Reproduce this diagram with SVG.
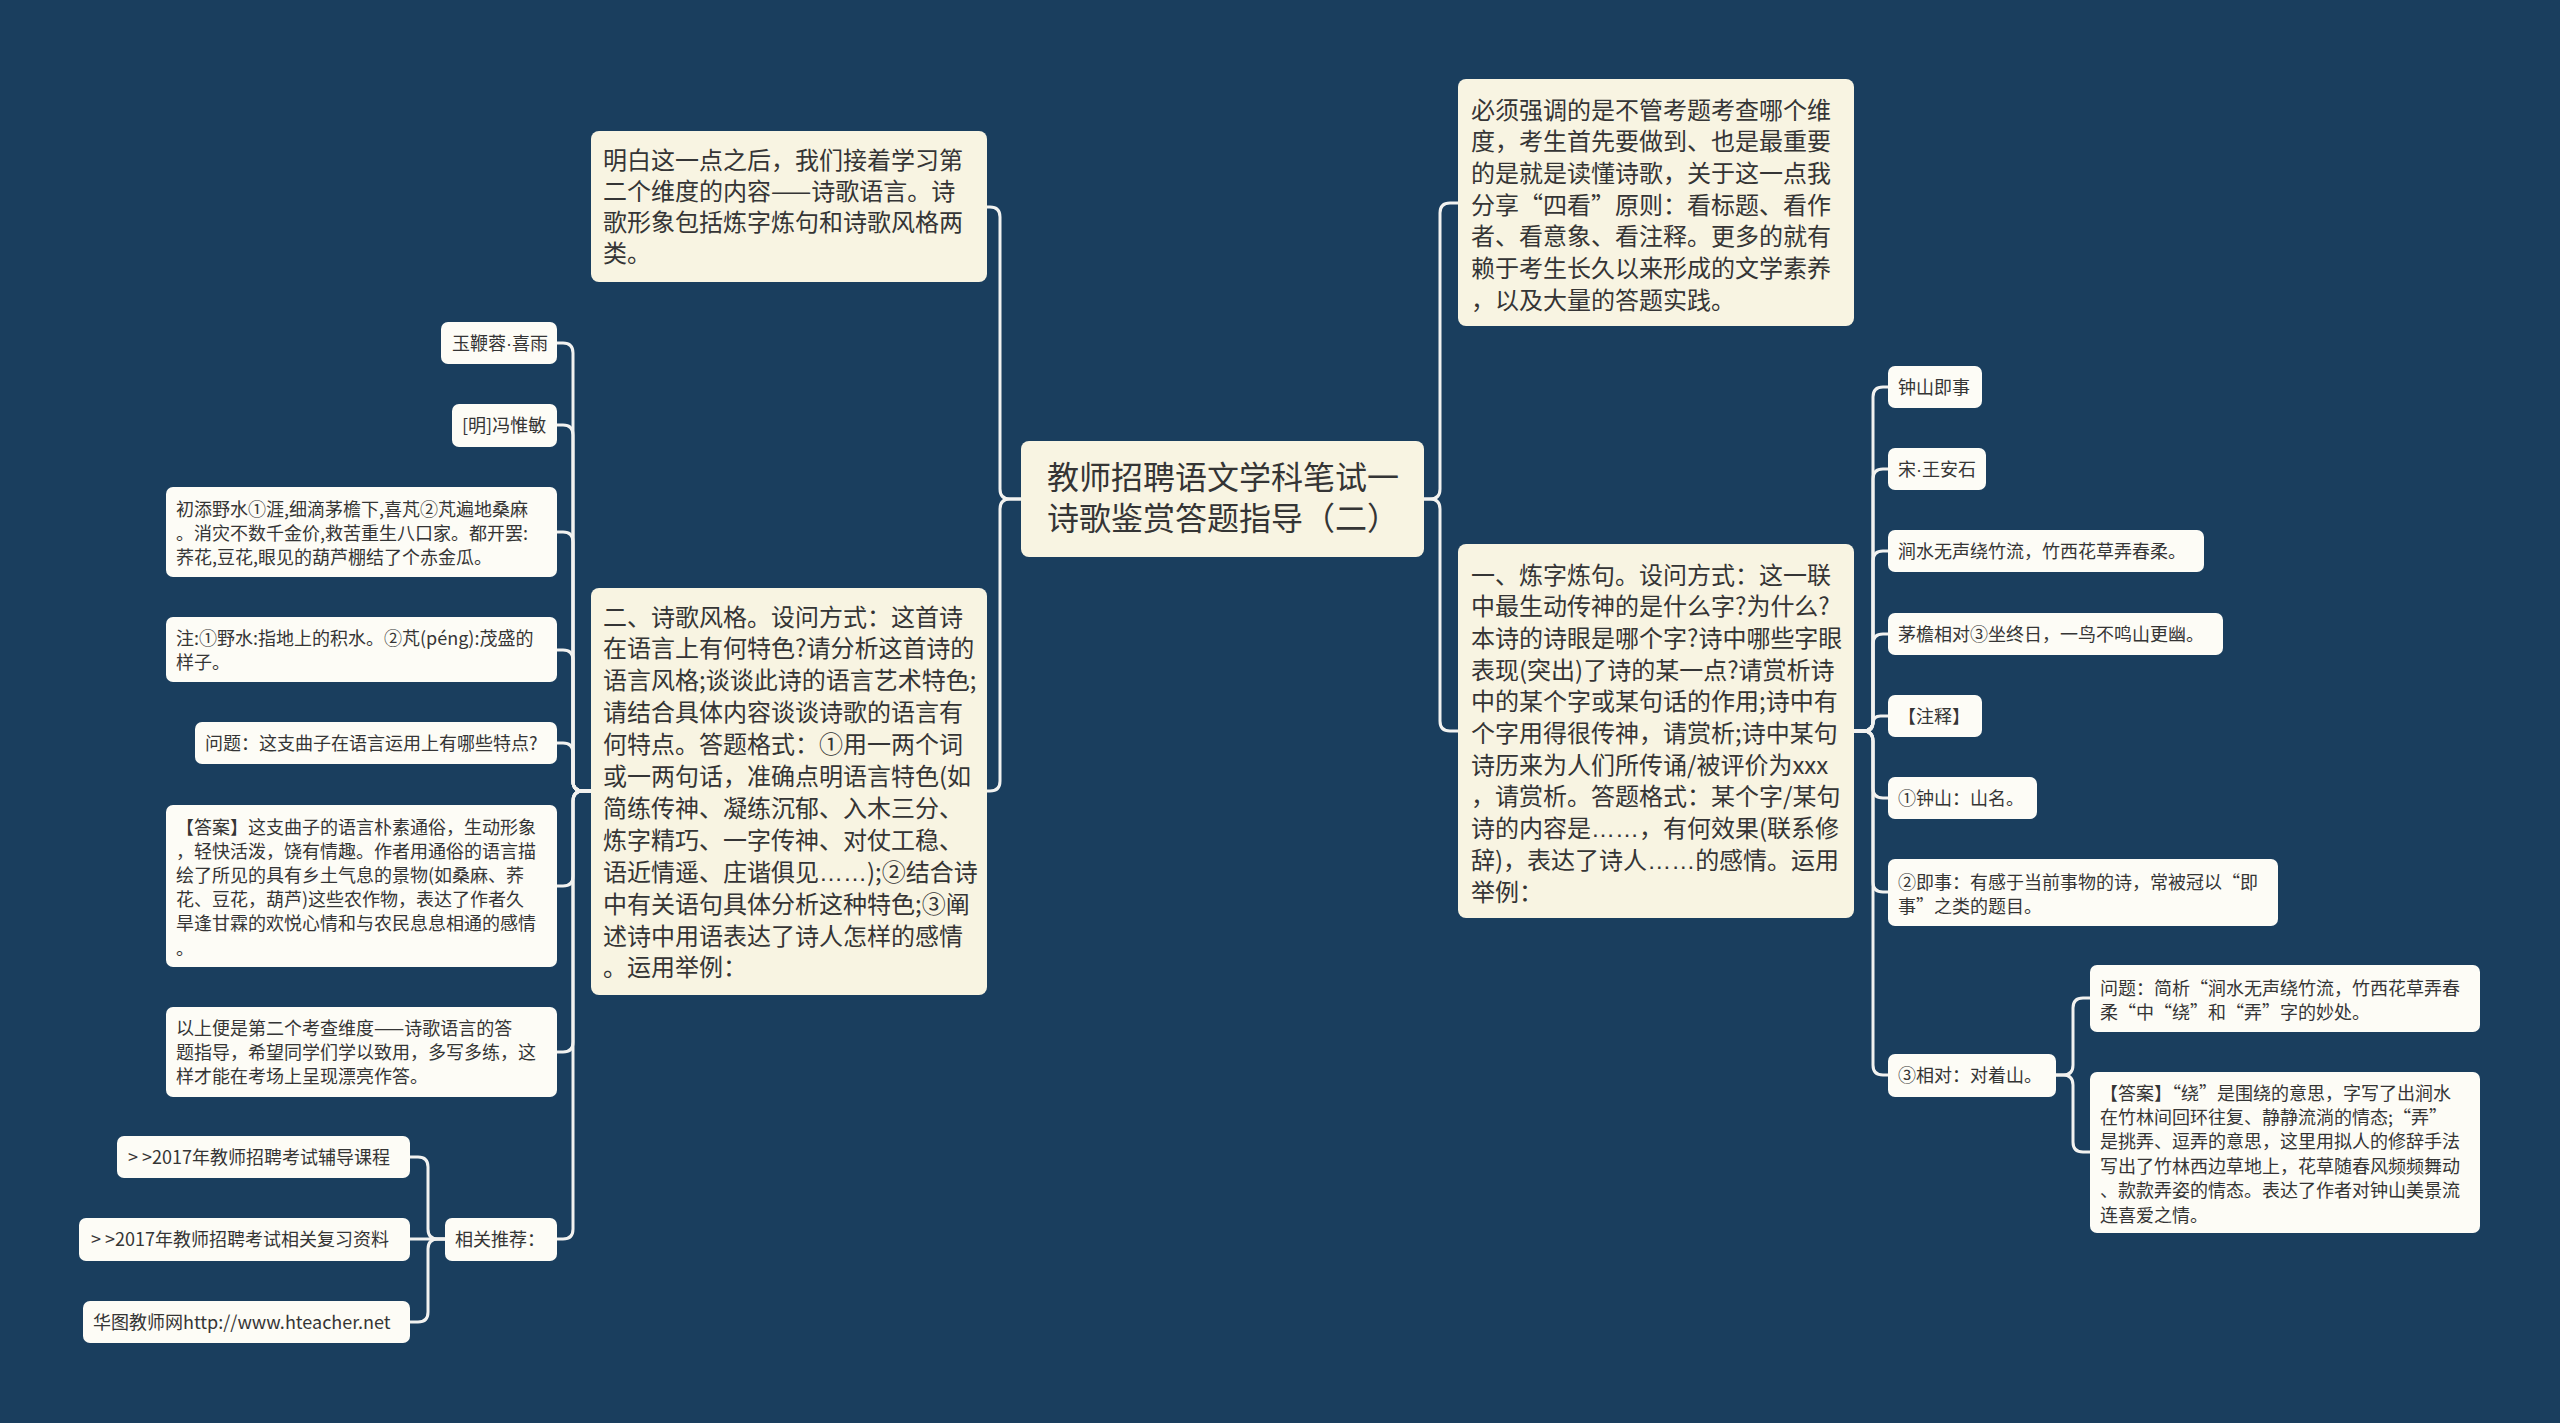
<svg xmlns="http://www.w3.org/2000/svg" width="2560" height="1423" viewBox="0 0 2560 1423">
<style>
.bgc{fill:#1a3e5e}
.big{fill:#f8f4e2}
.sm{fill:#fdfcf6}
text{font-family:"Noto Sans CJK SC","Noto Sans",sans-serif;fill:#353535}
.t32{font-size:32px}
.t24{font-size:24px}
.t18{font-size:18px}
.lat{font-family:"Liberation Sans",sans-serif}
.gt{letter-spacing:4px}
.conn path{fill:none;stroke:#f2f2f0;stroke-width:3;stroke-linecap:round}
</style>
<rect class="bgc" x="0" y="0" width="2560" height="1423"/>

<g class="conn" id="connectors">
<path d="M1021 499 H1010 Q1000 499 1000 489 V217 Q1000 207 990 207 H987"/>
<path d="M1021 499 H1010 Q1000 499 1000 509 V781 Q1000 791 990 791 H987"/>
<path d="M1424 499 H1430 Q1440 499 1440 489 V213 Q1440 203 1450 203 H1458"/>
<path d="M1424 499 H1430 Q1440 499 1440 509 V721 Q1440 731 1450 731 H1458"/>

<path d="M591 791 H583 Q573 791 573 781 V353 Q573 343 563 343 H557"/>
<path d="M591 791 H583 Q573 791 573 781 V435 Q573 425 563 425 H557"/>
<path d="M591 791 H583 Q573 791 573 781 V542 Q573 532 563 532 H557"/>
<path d="M591 791 H583 Q573 791 573 781 V660 Q573 650 563 650 H557"/>
<path d="M591 791 H583 Q573 791 573 781 V753 Q573 743 563 743 H557"/>
<path d="M591 791 H583 Q573 791 573 801 V876 Q573 886 563 886 H557"/>
<path d="M591 791 H583 Q573 791 573 801 V1042 Q573 1052 563 1052 H557"/>
<path d="M591 791 H583 Q573 791 573 801 V1229 Q573 1239 563 1239 H557"/>

<path d="M445 1239 H438 Q428 1239 428 1229 V1167 Q428 1157 418 1157 H410"/>
<path d="M445 1239 H410"/>
<path d="M445 1239 H438 Q428 1239 428 1249 V1312 Q428 1322 418 1322 H410"/>

<path d="M1854 731 H1863 Q1873 731 1873 721 V397 Q1873 387 1883 387 H1888"/>
<path d="M1854 731 H1863 Q1873 731 1873 721 V479 Q1873 469 1883 469 H1888"/>
<path d="M1854 731 H1863 Q1873 731 1873 721 V561 Q1873 551 1883 551 H1888"/>
<path d="M1854 731 H1863 Q1873 731 1873 721 V644 Q1873 634 1883 634 H1888"/>
<path d="M1854 731 H1865.5 Q1873 731 1873 723.5 Q1873 716 1880.5 716 H1888"/>
<path d="M1854 731 H1863 Q1873 731 1873 741 V788 Q1873 798 1883 798 H1888"/>
<path d="M1854 731 H1863 Q1873 731 1873 741 V882 Q1873 892 1883 892 H1888"/>
<path d="M1854 731 H1863 Q1873 731 1873 741 V1065 Q1873 1075 1883 1075 H1888"/>

<path d="M2056 1075 H2063 Q2073 1075 2073 1065 V1008 Q2073 998 2083 998 H2090"/>
<path d="M2056 1075 H2063 Q2073 1075 2073 1085 V1142 Q2073 1152 2083 1152 H2090"/>
</g>

<g id="root">
<rect class="big" x="1021" y="441" width="403" height="116" rx="8"/>
<text class="t32" x="1047" y="489">教师招聘语文学科笔试一</text>
<text class="t32" x="1047" y="530">诗歌鉴赏答题指导（二）</text>
</g>

<g id="n-topleft">
<rect class="big" x="591" y="131" width="396" height="151" rx="8"/>
<text class="t24" x="603" y="168.5">明白这一点之后，我们接着学习第</text>
<text class="t24" x="603" y="199.5">二个维度的内容——诗歌语言。诗</text>
<text class="t24" x="603" y="230.5">歌形象包括炼字炼句和诗歌风格两</text>
<text class="t24" x="603" y="261.5">类。</text>
</g>

<g id="n-style">
<rect class="big" x="591" y="588" width="396" height="407" rx="8"/>
<text class="t24" x="603" y="625.5">二、诗歌风格。设问方式：这首诗</text>
<text class="t24" x="603" y="657.4">在语言上有何特色?请分析这首诗的</text>
<text class="t24" x="603" y="689.3">语言风格;谈谈此诗的语言艺术特色;</text>
<text class="t24" x="603" y="721.2">请结合具体内容谈谈诗歌的语言有</text>
<text class="t24" x="603" y="753.1">何特点。答题格式：①用一两个词</text>
<text class="t24" x="603" y="785">或一两句话，准确点明语言特色(如</text>
<text class="t24" x="603" y="816.9">简练传神、凝练沉郁、入木三分、</text>
<text class="t24" x="603" y="848.8">炼字精巧、一字传神、对仗工稳、</text>
<text class="t24" x="603" y="880.7">语近情遥、庄谐俱见<tspan class="lat">……</tspan>);②结合诗</text>
<text class="t24" x="603" y="912.6">中有关语句具体分析这种特色;③阐</text>
<text class="t24" x="603" y="944.5">述诗中用语表达了诗人怎样的感情</text>
<text class="t24" x="603" y="976.4">。运用举例：</text>
</g>

<g id="n-topright">
<rect class="big" x="1458" y="79" width="396" height="247" rx="8"/>
<text class="t24" x="1471" y="118.5">必须强调的是不管考题考查哪个维</text>
<text class="t24" x="1471" y="150.2">度，考生首先要做到、也是最重要</text>
<text class="t24" x="1471" y="181.9">的是就是读懂诗歌，关于这一点我</text>
<text class="t24" x="1471" y="213.6">分享“四看”原则：看标题、看作</text>
<text class="t24" x="1471" y="245.3">者、看意象、看注释。更多的就有</text>
<text class="t24" x="1471" y="277">赖于考生长久以来形成的文学素养</text>
<text class="t24" x="1471" y="308.7">，以及大量的答题实践。</text>
</g>

<g id="n-lianzi">
<rect class="big" x="1458" y="544" width="396" height="374" rx="8"/>
<text class="t24" x="1471" y="583.5">一、炼字炼句。设问方式：这一联</text>
<text class="t24" x="1471" y="615.2">中最生动传神的是什么字?为什么?</text>
<text class="t24" x="1471" y="646.9">本诗的诗眼是哪个字?诗中哪些字眼</text>
<text class="t24" x="1471" y="678.6">表现(突出)了诗的某一点?请赏析诗</text>
<text class="t24" x="1471" y="710.3">中的某个字或某句话的作用;诗中有</text>
<text class="t24" x="1471" y="742">个字用得很传神，请赏析;诗中某句</text>
<text class="t24" x="1471" y="773.7">诗历来为人们所传诵/被评价为xxx</text>
<text class="t24" x="1471" y="805.4">，请赏析。答题格式：某个字/某句</text>
<text class="t24" x="1471" y="837.1">诗的内容是<tspan class="lat">……</tspan>，有何效果(联系修</text>
<text class="t24" x="1471" y="868.8">辞)，表达了诗人<tspan class="lat">……</tspan>的感情。运用</text>
<text class="t24" x="1471" y="900.5">举例：</text>
</g>

<g id="n-l1"><rect class="sm" x="441" y="322" width="116" height="42" rx="7"/><text class="t18" x="452" y="349.5">玉鞭蓉<tspan class="lat">·</tspan>喜雨</text></g>
<g id="n-l2"><rect class="sm" x="452" y="404" width="105" height="43" rx="7"/><text class="t18" x="462" y="432">[明]冯惟敏</text></g>
<g id="n-l3"><rect class="sm" x="166" y="487" width="391" height="90" rx="7"/>
<text class="t18" x="176" y="515.5">初添野水①涯,细滴茅檐下,喜芃②芃遍地桑麻</text>
<text class="t18" x="176" y="539.5">。消灾不数千金价,救苦重生八口家。都开罢:</text>
<text class="t18" x="176" y="563.5">荞花,豆花,眼见的葫芦棚结了个赤金瓜。</text></g>
<g id="n-l4"><rect class="sm" x="166" y="617" width="391" height="65" rx="7"/>
<text class="t18" x="176" y="644.5">注:①野水:指地上的积水。②芃(péng):茂盛的</text>
<text class="t18" x="176" y="668.5">样子。</text></g>
<g id="n-l5"><rect class="sm" x="195" y="722" width="362" height="42" rx="7"/><text class="t18" x="205" y="749.5">问题：这支曲子在语言运用上有哪些特点?</text></g>
<g id="n-l6"><rect class="sm" x="166" y="805" width="391" height="162" rx="7"/>
<text class="t18" x="176" y="833.5">【答案】这支曲子的语言朴素通俗，生动形象</text>
<text class="t18" x="176" y="857.7">，轻快活泼，饶有情趣。作者用通俗的语言描</text>
<text class="t18" x="176" y="881.9">绘了所见的具有乡土气息的景物(如桑麻、荞</text>
<text class="t18" x="176" y="906.1">花、豆花，葫芦)这些农作物，表达了作者久</text>
<text class="t18" x="176" y="930.3">旱逢甘霖的欢悦心情和与农民息息相通的感情</text>
<text class="t18" x="176" y="954.5">。</text></g>
<g id="n-l7"><rect class="sm" x="166" y="1007" width="391" height="90" rx="7"/>
<text class="t18" x="176" y="1034.5">以上便是第二个考查维度——诗歌语言的答</text>
<text class="t18" x="176" y="1058.5">题指导，希望同学们学以致用，多写多练，这</text>
<text class="t18" x="176" y="1082.5">样才能在考场上呈现漂亮作答。</text></g>
<g id="n-l8"><rect class="sm" x="445" y="1218" width="112" height="43" rx="7"/><text class="t18" x="455" y="1246">相关推荐：</text></g>
<g id="n-r1"><rect class="sm" x="117" y="1136" width="293" height="42" rx="7"/><text class="t18" x="128" y="1163.5"><tspan class="gt">&gt;</tspan>&gt;2017年教师招聘考试辅导课程</text></g>
<g id="n-r2"><rect class="sm" x="79" y="1218" width="331" height="43" rx="7"/><text class="t18" x="91" y="1246"><tspan class="gt">&gt;</tspan>&gt;2017年教师招聘考试相关复习资料</text></g>
<g id="n-r3"><rect class="sm" x="83" y="1301" width="327" height="42" rx="7"/><text class="t18" x="93" y="1328.5">华图教师网http://www.hteacher.net</text></g>

<g id="n-p1"><rect class="sm" x="1888" y="366" width="94" height="42" rx="7"/><text class="t18" x="1898" y="393.5">钟山即事</text></g>
<g id="n-p2"><rect class="sm" x="1888" y="448" width="98" height="42" rx="7"/><text class="t18" x="1898" y="475.5">宋<tspan class="lat">·</tspan>王安石</text></g>
<g id="n-p3"><rect class="sm" x="1888" y="530" width="316" height="42" rx="7"/><text class="t18" x="1898" y="557.5">涧水无声绕竹流，竹西花草弄春柔。</text></g>
<g id="n-p4"><rect class="sm" x="1888" y="613" width="335" height="42" rx="7"/><text class="t18" x="1898" y="640.5">茅檐相对③坐终日，一鸟不鸣山更幽。</text></g>
<g id="n-p5"><rect class="sm" x="1888" y="695" width="94" height="42" rx="7"/><text class="t18" x="1898" y="722.5">【注释】</text></g>
<g id="n-p6"><rect class="sm" x="1888" y="777" width="149" height="42" rx="7"/><text class="t18" x="1898" y="804.5">①钟山：山名。</text></g>
<g id="n-p7"><rect class="sm" x="1888" y="859" width="390" height="67" rx="7"/>
<text class="t18" x="1898" y="888.5">②即事：有感于当前事物的诗，常被冠以“即</text>
<text class="t18" x="1898" y="912.5">事”之类的题目。</text></g>
<g id="n-p8"><rect class="sm" x="1888" y="1054" width="168" height="43" rx="7"/><text class="t18" x="1898" y="1082">③相对：对着山。</text></g>
<g id="n-q1"><rect class="sm" x="2090" y="965" width="390" height="67" rx="7"/>
<text class="t18" x="2100" y="994.5">问题：简析“涧水无声绕竹流，竹西花草弄春</text>
<text class="t18" x="2100" y="1018.5">柔“中“绕”和“弄”字的妙处。</text></g>
<g id="n-q2"><rect class="sm" x="2090" y="1072" width="390" height="161" rx="7"/>
<text class="t18" x="2100" y="1099.5">【答案】“绕”是围绕的意思，字写了出涧水</text>
<text class="t18" x="2100" y="1123.9">在竹林间回环往复、静静流淌的情态;“弄”</text>
<text class="t18" x="2100" y="1148.3">是挑弄、逗弄的意思，这里用拟人的修辞手法</text>
<text class="t18" x="2100" y="1172.7">写出了竹林西边草地上，花草随春风频频舞动</text>
<text class="t18" x="2100" y="1197.1">、款款弄姿的情态。表达了作者对钟山美景流</text>
<text class="t18" x="2100" y="1221.5">连喜爱之情。</text></g>
</svg>
